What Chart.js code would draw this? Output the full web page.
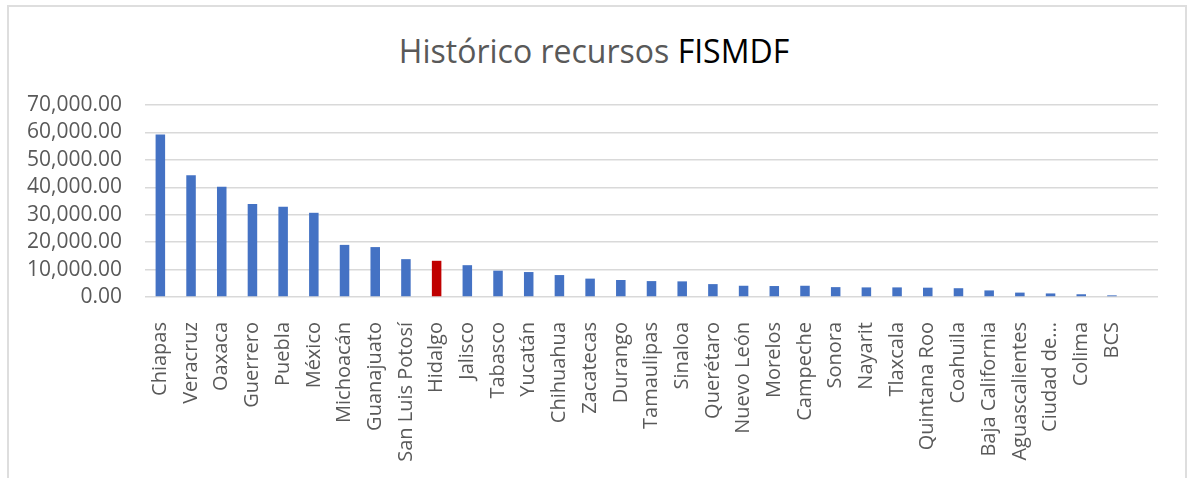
<!DOCTYPE html>
<html>
<head>
<meta charset="utf-8">
<script src="https://cdn.jsdelivr.net/npm/chart.js@4"></script>
<style>
  body { margin: 0; background: #fff; width: 1188px; height: 478px; overflow: hidden; position: relative; font-family: "Open Sans", sans-serif; }
  #frame { position: absolute; left: 7px; top: 5px; width: 1176px; height: 480px; border: 2px solid #dedede; border-bottom: none; }
  #title { position: absolute; left: 0; width: 1188px; top: 29px; text-align: center; font-size: 32px; color: #595959; white-space: nowrap; }
  #title b { font-weight: normal; color: #000; }
  #c { position: absolute; left: 0; top: 0; }
</style>
</head>
<body>
<div id="frame"></div>
<div id="title">Histórico recursos <b>FISMDF</b></div>
<canvas id="c" width="1188" height="478"></canvas>
<script>
// datos (millones)
// la ultima categoria va vacia, igual que en la hoja original
var estados = ["Chiapas", "Veracruz", "Oaxaca", "Guerrero", "Puebla", "México", "Michoacán", "Guanajuato",
  "San Luis Potosí", "Hidalgo", "Jalisco", "Tabasco", "Yucatán", "Chihuahua", "Zacatecas", "Durango",
  "Tamaulipas", "Sinaloa", "Querétaro", "Nuevo León", "Morelos", "Campeche", "Sonora", "Nayarit",
  "Tlaxcala", "Quintana Roo", "Coahuila", "Baja California", "Aguascalientes", "Ciudad de...", "Colima", "BCS", ""];
var recursos = [59200, 44400, 40200, 33900, 32900, 30700, 19000, 18200,
  13800, 13200, 11600, 9600, 9100, 8000, 6700, 6200,
  5800, 5700, 4700, 4100, 4000, 4100, 3600, 3500,
  3500, 3400, 3200, 2400, 1600, 1300, 1000, 600, null];
var yTicks = [0, 10000, 20000, 30000, 40000, 50000, 60000, 70000];
var resaltado = "Hidalgo";

var colores = estados.map(function (e) {
  return e == resaltado ? "#C00000" : "#4472C4";
});

new Chart(document.getElementById("c").getContext("2d"), {
  type: "bar",
  data: {
    labels: estados,
    datasets: [{
      data: recursos,
      backgroundColor: colores,
      borderWidth: 0,
      categoryPercentage: 1,
      barPercentage: 0.31
    }]
  },
  options: {
    responsive: false,
    animation: false,
    devicePixelRatio: 1,
    layout: { padding: { top: 105, right: 30, left: 0, bottom: 0 } },
    plugins: { legend: { display: false }, tooltip: { enabled: false } },
    scales: {
      x: {
        offset: true,
        grid: { display: false },
        border: { display: false },
        ticks: {
          autoSkip: false,
          minRotation: 90,
          maxRotation: 90,
          padding: 17,
          color: "#595959",
          font: { family: "Open Sans", size: 20 }
        },
        afterFit: function (s) { s.height = 181; }
      },
      y: {
        min: 0,
        max: 70000,
        afterBuildTicks: function (s) {
          s.ticks = yTicks.map(function (v) { return { value: v }; });
        },
        grid: { color: "#d9d9d9", lineWidth: 1.5, drawTicks: false },
        border: { display: false },
        ticks: {
          autoSkip: false,
          padding: 23,
          color: "#595959",
          font: { family: "Open Sans", size: 21 },
          callback: function (v) {
            return v.toLocaleString("en-US", { minimumFractionDigits: 2, maximumFractionDigits: 2 });
          }
        },
        afterFit: function (s) { s.width = 145; }
      }
    }
  }
});
</script>
</body>
</html>
